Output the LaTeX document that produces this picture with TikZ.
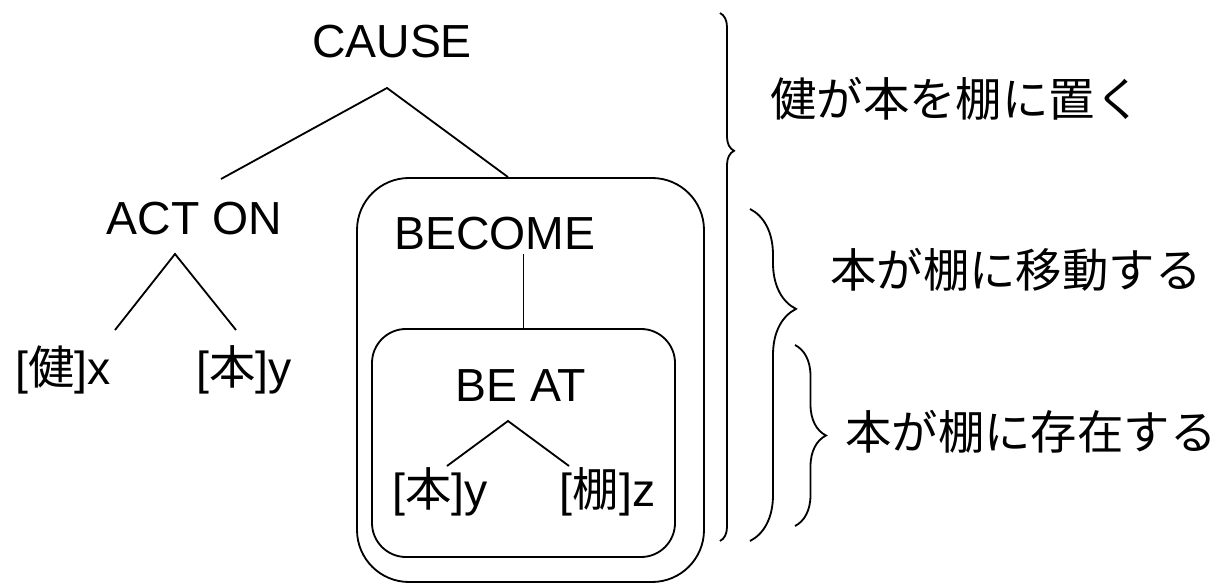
\documentclass[tikz,border=0pt]{standalone}
\usepackage{fontspec}
\setmainfont{Liberation Sans}
\newfontfamily\jp{Noto Sans CJK JP}
\usetikzlibrary{decorations.pathreplacing}

\begin{document}
\begin{tikzpicture}[
    every node/.style={font=\fontsize{33}{40}\selectfont, inner sep=0pt},
    lbl/.style={anchor=base},
    gloss/.style={anchor=west, font=\fontsize{33}{40}\selectfont\jp},
    frame/.style={draw, line width=1.3pt},
    curly/.style={line width=1.3pt, decorate},
  ]
  \useasboundingbox (0,0) rectangle (30.5,14.6);
  % boxes
  \node[frame, rounded corners=1.3cm, minimum width=8.675cm, minimum height=10.1cm] (outer) at (13.2625,5.1) {};
  \node[frame, rounded corners=0.85cm, minimum width=7.575cm, minimum height=5.7cm] (inner) at (13.0875,3.525) {};
  % tree
  \node[lbl] (cause) at (9.8,13.15) {CAUSE};
  \node[lbl] (acton) at (4.8625,8.725) {ACT ON};
  \node[lbl] (ken) at (1.575,4.975) {[{\jp 健}]x};
  \node[lbl] (hon) at (6.1,4.975) {[{\jp 本}]y};
  \node[lbl] (become) at (12.375,8.35) {BECOME};
  \node[lbl] (beat) at (13.025,4.55) {BE AT};
  \node[lbl] (hon2) at (11.0,1.925) {[{\jp 本}]y};
  \node[lbl] (tana) at (15.1875,1.925) {[{\jp 棚}]z};
  \draw[line width=1.3pt] ([shift={(0.6625,1.4)}]acton.base) -- ([shift={(-0.125,-0.75)}]cause.base) -- ([xshift=-0.5625cm]outer.north);
  \draw[line width=1.3pt] ([shift={(1.3,1.375)}]ken.base) -- ([shift={(-0.4875,-0.475)}]acton.base) -- ([shift={(-0.2,1.375)}]hon.base);
  \draw[line width=1.3pt] (inner.north) -- ([yshift=-0.1cm]inner.north |- become.base);
  \draw[line width=1.3pt] ([shift={(0.175,1.025)}]hon2.base) -- ([shift={(-0.325,-0.475)}]beat.base) -- ([shift={(-0.9625,1.025)}]tana.base);
  % braces
  \draw[curly, decoration={brace, amplitude=0.35cm, aspect=0.261}] (18,14.275) -- (18,1.075);
  \draw[curly, decoration={brace, amplitude=1.15cm, aspect=0.301}] (18.75,9.375) -- (18.75,1.075);
  \draw[curly, decoration={brace, amplitude=0.775cm, aspect=0.5}] (19.875,5.975) -- (19.875,1.45);
  \node[gloss] (g1) at (19.25,12.125) {健が本を棚に置く};
  \node[gloss] (g2) at (20.75,7.85) {本が棚に移動する};
  \node[gloss] (g3) at (21.125,3.8) {本が棚に存在する};
\end{tikzpicture}
\end{document}
